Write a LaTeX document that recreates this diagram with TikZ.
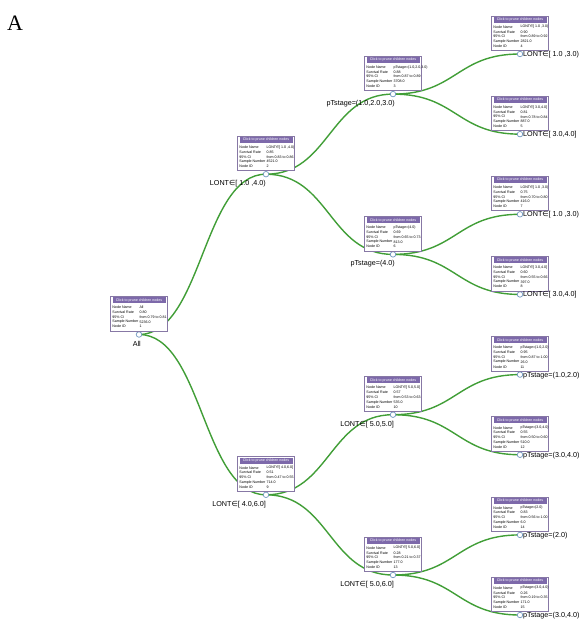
\documentclass[tikz,border=0pt]{standalone}
\usepackage{fontspec}
\setmainfont{Liberation Sans}
\newfontfamily\serifA{Liberation Serif}
\newfontfamily\dejavu{DejaVu Sans}
\usetikzlibrary{calc,backgrounds}
\definecolor{edgegreen}{RGB}{65,158,55}
\definecolor{boxline}{RGB}{135,120,165}
\definecolor{hdrfill}{RGB}{125,105,170}
\definecolor{dotline}{RGB}{110,150,190}
\newcommand\inn{{\dejavu ∈}}
\tikzset{
  infobox/.style={draw=boxline, line width=0.7pt, fill=white, minimum width=57pt, minimum height=34.5pt, inner sep=0pt},
  hdr/.style={fill=hdrfill, text=white, minimum width=53pt, minimum height=6pt, inner sep=0pt, font=\fontsize{3.6}{4}\selectfont},
  rowtxt/.style={anchor=west, inner sep=0pt, font=\fontsize{3.6}{4}\selectfont},
  dot/.style={circle, draw=dotline, fill=white, line width=0.7pt, minimum size=5.5pt, inner sep=0pt},
  edge/.style={draw=edgegreen, line width=1.4pt},
  leaflab/.style={anchor=base west, font=\fontsize{7.2}{8}\selectfont, inner sep=0pt},
  innerlab/.style={anchor=base east, font=\fontsize{7.2}{8}\selectfont, inner sep=0pt},
}
% #1 dot name, #2 node name, #3 rate, #4 CI, #5 sample, #6 id
\newcommand\tbox[6]{%
  \node[infobox] (#1b) at ($(#1)+(0,-20.75)$) {};
  \node[hdr] (#1h) at ($(#1)+(0,-34.3)$) {Click to prune children nodes};
  \node[rowtxt] (#1l1) at ($(#1)+(-26.8,-27)$) {Node Name};
  \node[rowtxt] (#1v1) at ($(#1)+(0.3,-27)$) {#2};
  \node[rowtxt] (#1l2) at ($(#1)+(-26.8,-22.2)$) {Survival Rate};
  \node[rowtxt] (#1v2) at ($(#1)+(0.3,-22.2)$) {#3};
  \node[rowtxt] (#1l3) at ($(#1)+(-26.8,-17.4)$) {95\% CI};
  \node[rowtxt] (#1v3) at ($(#1)+(0.3,-17.4)$) {#4};
  \node[rowtxt] (#1l4) at ($(#1)+(-26.8,-12.6)$) {Sample Number};
  \node[rowtxt] (#1v4) at ($(#1)+(0.3,-12.6)$) {#5};
  \node[rowtxt] (#1l5) at ($(#1)+(-26.8,-7.8)$) {Node ID};
  \node[rowtxt] (#1v5) at ($(#1)+(0.3,-7.8)$) {#6};
}
\newcommand\link[2]{%
  \draw[edge] let \p1=(#1.center), \p2=(#2.center) in
    (#1.center) .. controls ({(\x1+\x2)/2},\y1) and ({(\x1+\x2)/2},\y2) .. (#2.center);
}
\begin{document}
\begin{tikzpicture}[x=1pt,y=-1pt]
\useasboundingbox (0,0) rectangle (585,627);
\node[anchor=base west, font=\serifA\fontsize{22}{24}\selectfont, inner sep=0pt] (lbl) at (7,30) {A};
% dots
\node[dot] (n1) at (139,334.5) {};
\node[dot] (n2) at (266,174.2) {};
\node[dot] (n9) at (266,494.8) {};
\node[dot] (n3) at (393,94.1) {};
\node[dot] (n6) at (393,254.4) {};
\node[dot] (n10) at (393,414.7) {};
\node[dot] (n13) at (393,575) {};
\node[dot] (n4) at (520,54) {};
\node[dot] (n5) at (520,134.15) {};
\node[dot] (n7) at (520,214.3) {};
\node[dot] (n8) at (520,294.45) {};
\node[dot] (n11) at (520,374.6) {};
\node[dot] (n12) at (520,454.75) {};
\node[dot] (n14) at (520,534.9) {};
\node[dot] (n15) at (520,615) {};
\begin{pgfonlayer}{background}
\link{n1}{n2}\link{n1}{n9}
\link{n2}{n3}\link{n2}{n6}
\link{n9}{n10}\link{n9}{n13}
\link{n3}{n4}\link{n3}{n5}
\link{n6}{n7}\link{n6}{n8}
\link{n10}{n11}\link{n10}{n12}
\link{n13}{n14}\link{n13}{n15}
\end{pgfonlayer}
% boxes
\tbox{n1}{All}{0.80}{from 0.79 to 0.81}{5236.0}{1}
\tbox{n2}{LONT\inn[ 1.0 ,4.0)}{0.85}{from 0.83 to 0.86}{4521.0}{2}
\tbox{n3}{pTstage=(1.0,2.0,3.0)}{0.88}{from 0.87 to 0.89}{3708.0}{3}
\tbox{n4}{LONT\inn[ 1.0 ,3.0)}{0.90}{from 0.89 to 0.92}{2821.0}{4}
\tbox{n5}{LONT\inn[ 3.0,4.0]}{0.81}{from 0.78 to 0.84}{887.0}{5}
\tbox{n6}{pTstage=(4.0)}{0.69}{from 0.65 to 0.73}{813.0}{6}
\tbox{n7}{LONT\inn[ 1.0 ,3.0)}{0.75}{from 0.70 to 0.80}{416.0}{7}
\tbox{n8}{LONT\inn[ 3.0,4.0]}{0.60}{from 0.55 to 0.66}{397.0}{8}
\tbox{n9}{LONT\inn[ 4.0,6.0]}{0.51}{from 0.47 to 0.55}{714.0}{9}
\tbox{n10}{LONT\inn[ 5.0,5.0]}{0.57}{from 0.53 to 0.63}{535.0}{10}
\tbox{n11}{pTstage=(1.0,2.0)}{0.95}{from 0.87 to 1.00}{26.0}{11}
\tbox{n12}{pTstage=(3.0,4.0)}{0.55}{from 0.50 to 0.60}{510.0}{12}
\tbox{n13}{LONT\inn[ 5.0,6.0]}{0.28}{from 0.21 to 0.37}{177.0}{13}
\tbox{n14}{pTstage=(2.0)}{0.83}{from 0.56 to 1.00}{6.0}{14}
\tbox{n15}{pTstage=(3.0,4.0)}{0.26}{from 0.19 to 0.35}{171.0}{15}
% labels
\node[innerlab] (t1) at ($(n1)+(2,11.5)$) {All};
\node[innerlab] (t2) at ($(n2)+(0,11.5)$) {LONT\inn[ 1.0 ,4.0)};
\node[innerlab] (t9) at ($(n9)+(0,11.5)$) {LONT\inn[ 4.0,6.0]};
\node[innerlab] (t3) at ($(n3)+(2,11.5)$) {pTstage=(1.0,2.0,3.0)};
\node[innerlab] (t6) at ($(n6)+(2,11.5)$) {pTstage=(4.0)};
\node[innerlab] (t10) at ($(n10)+(1,11.5)$) {LONT\inn[ 5.0,5.0]};
\node[innerlab] (t13) at ($(n13)+(1,11.5)$) {LONT\inn[ 5.0,6.0]};
\node[leaflab] (t4) at ($(n4)+(3,2.5)$) {LONT\inn[ 1.0 ,3.0)};
\node[leaflab] (t5) at ($(n5)+(3,2.5)$) {LONT\inn[ 3.0,4.0]};
\node[leaflab] (t7) at ($(n7)+(3,2.5)$) {LONT\inn[ 1.0 ,3.0)};
\node[leaflab] (t8) at ($(n8)+(3,2.5)$) {LONT\inn[ 3.0,4.0]};
\node[leaflab] (t11) at ($(n11)+(3,2.5)$) {pTstage=(1.0,2.0)};
\node[leaflab] (t12) at ($(n12)+(3,2.5)$) {pTstage=(3.0,4.0)};
\node[leaflab] (t14) at ($(n14)+(3,2.5)$) {pTstage=(2.0)};
\node[leaflab] (t15) at ($(n15)+(3,2.5)$) {pTstage=(3.0,4.0)};
\end{tikzpicture}
\end{document}
